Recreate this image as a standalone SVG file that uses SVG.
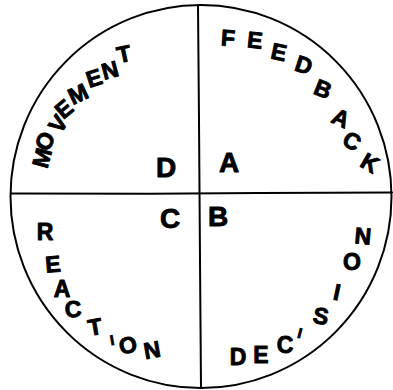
<svg xmlns="http://www.w3.org/2000/svg" width="393" height="390" viewBox="0 0 393 390">
<style>
  .ln { fill: none; stroke: #000; stroke-width: 2; stroke-linecap: round; }
  text { font-family: "Liberation Sans", Arial, sans-serif; font-weight: bold; fill: #000; stroke: #000; stroke-width: 0.9; stroke-linejoin: round; text-anchor: middle; }
  .arc { font-size: 23px; }
  .sm { font-size: 14px; }
  .big { font-size: 28px; }
</style>
<rect width="393" height="390" fill="#fff"/>
<g id="frame">
  <ellipse class="ln" cx="201" cy="196.5" rx="190.5" ry="191.5"/>
  <path class="ln" d="M198 5 L199 120 L200 260 L201 388"/>
  <path class="ln" d="M11 193.5 L150 193.8 L260 193 L392 192.5"/>
</g>
<g id="quadrant-D">
  <text class="big" x="166" y="177">D</text>
  <g id="movement">
    <text class="arc" y="8" transform="translate(42 158) rotate(-75)">M</text>
    <text class="arc" y="8" transform="translate(45 141) rotate(-62)">O</text>
    <text class="arc" y="8" transform="translate(58 124) rotate(-55)">V</text>
    <text class="arc" y="8" transform="translate(64 109) rotate(-40)">E</text>
    <text class="arc" y="8" transform="translate(78 94) rotate(-25)">M</text>
    <text class="arc" y="8" transform="translate(94 78) rotate(-18)">E</text>
    <text class="arc" y="8" transform="translate(110 70) rotate(-15)">N</text>
    <text class="arc" y="8" transform="translate(124 54) rotate(-12)">T</text>
  </g>
</g>
<g id="quadrant-A">
  <text class="big" x="229" y="172">A</text>
  <g id="feedback">
    <text class="arc" y="8" transform="translate(228 38) rotate(4)">F</text>
    <text class="arc" y="8" transform="translate(255 40) rotate(6)">E</text>
    <text class="arc" y="8" transform="translate(279 52) rotate(12)">E</text>
    <text class="arc" y="8" transform="translate(304 65) rotate(18)">D</text>
    <text class="arc" y="8" transform="translate(323 89) rotate(22)">B</text>
    <text class="arc" y="8" transform="translate(341 118) rotate(25)">A</text>
    <text class="arc" y="8" transform="translate(352 141) rotate(30)">C</text>
    <text class="arc" y="8" transform="translate(370 163) rotate(30)">K</text>
  </g>
</g>
<g id="quadrant-C">
  <text class="big" x="170" y="228">C</text>
  <g id="reaction">
    <text class="arc" y="8" transform="translate(45 232) rotate(0)">R</text>
    <text class="arc" y="8" transform="translate(53 264) rotate(-5)">E</text>
    <text class="arc" y="8" transform="translate(62 289) rotate(0)">A</text>
    <text class="arc" y="8" transform="translate(73 309) rotate(-5)">C</text>
    <text class="arc" y="8" transform="translate(95 327) rotate(-10)">T</text>
    <text class="sm" y="5" transform="translate(112 340) rotate(-10)">I</text>
    <text class="arc" y="8" transform="translate(128 345) rotate(-10)">O</text>
    <text class="arc" y="8" transform="translate(152 350) rotate(-10)">N</text>
  </g>
</g>
<g id="quadrant-B">
  <text class="big" x="218" y="226">B</text>
  <g id="decision">
    <text class="arc" y="8" transform="translate(238 357) rotate(0)">D</text>
    <text class="arc" y="8" transform="translate(261 355) rotate(0)">E</text>
    <text class="arc" y="8" transform="translate(285 345) rotate(0)">C</text>
    <text class="sm" y="5" transform="translate(300 333) rotate(15)">I</text>
    <text class="arc" y="8" transform="translate(321 316) rotate(10)">S</text>
    <text class="arc" y="8" transform="translate(337 292) rotate(12)">I</text>
    <text class="arc" y="8" transform="translate(352 262) rotate(0)">O</text>
    <text class="arc" y="8" transform="translate(363 236) rotate(5)">N</text>
  </g>
</g>
</svg>
